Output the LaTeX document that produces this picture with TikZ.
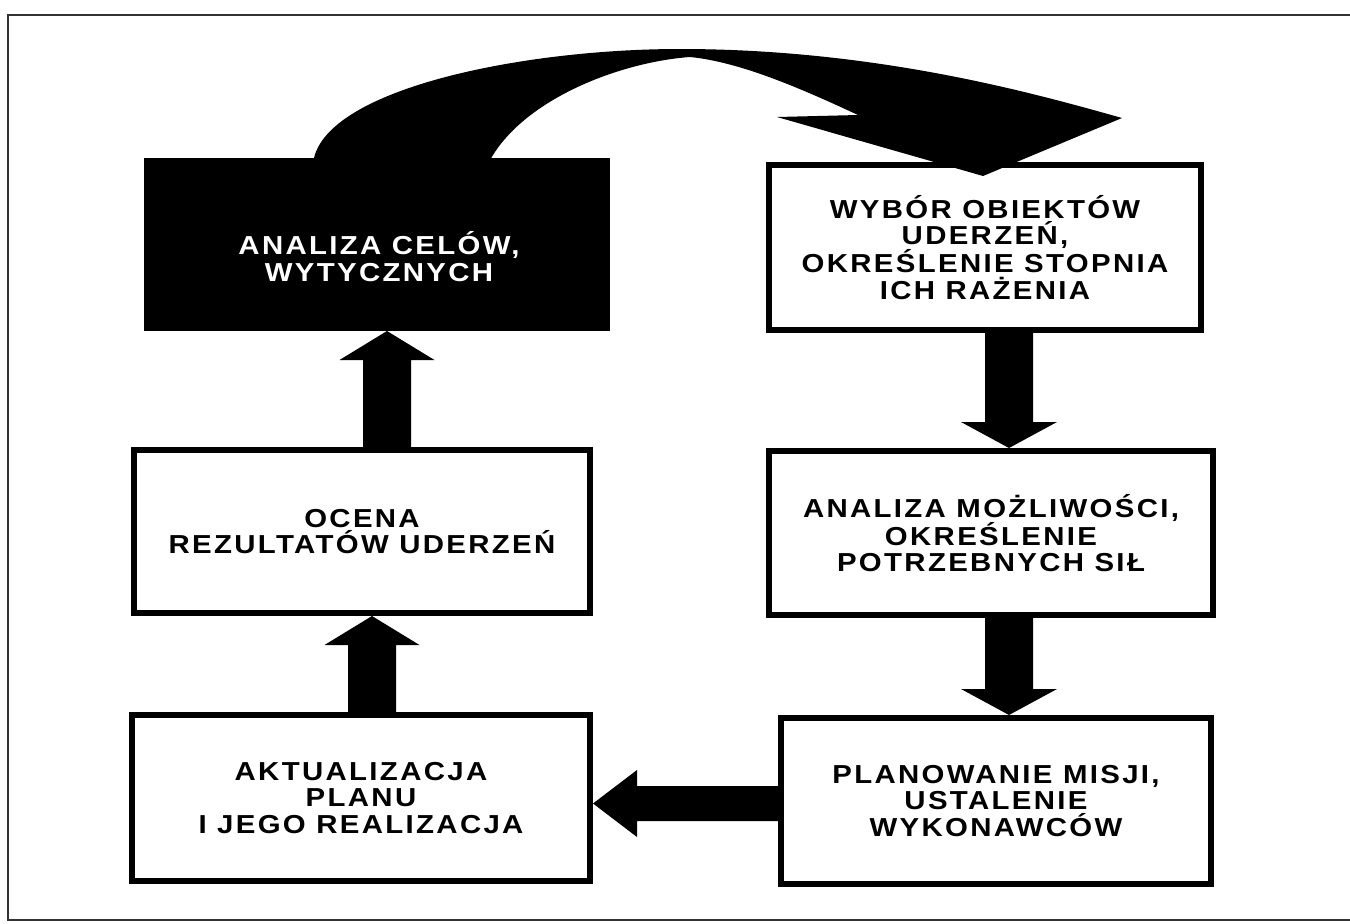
\documentclass[tikz,border=0pt]{standalone}
\usepackage{fontspec}
\newfontfamily\lbl{Liberation Sans}[FakeStretch=1.13,LetterSpace=9]
\usetikzlibrary{calc}
\begin{document}
\begin{tikzpicture}[x=1pt,y=-1pt,
  box/.style={draw=black, line width=6pt, fill=white, inner sep=0pt,
    align=center, text=black, font=\lbl\bfseries\fontsize{26}{26.5}\selectfont},
  darkbox/.style={box, fill=black},
  boxtext/.style={align=center, inner sep=0pt, text=white,
    font=\lbl\bfseries\fontsize{26}{27}\selectfont},
  blk/.style={fill=black},
  frame/.style={draw=black!80, line width=2.5pt}]
\useasboundingbox (0,0) rectangle (1350,924);
\fill[white] (0,0) rectangle (1350,924);

% outer frame, open on the right
\draw[frame] (1352,15) -- (8,15) -- (8,920) -- (1352,920);

% process boxes
\node[darkbox, minimum width=460pt, minimum height=167pt] (a1) at (377,244.5) {};
\node[boxtext] (a1t) at (379,257) {ANALIZA CELÓW,\\WYTYCZNYCH};
\node[box, minimum width=432pt, minimum height=165pt] (b1) at (985,247.5)
  {WYBÓR OBIEKTÓW\\UDERZEŃ,\\OKREŚLENIE STOPNIA\\ICH RAŻENIA};
\node[box, minimum width=456pt, minimum height=163pt] (a2) at (362,531.5)
  {OCENA\\REZULTATÓW UDERZEŃ};
\node[box, minimum width=444pt, minimum height=164pt] (b2) at (991,533)
  {ANALIZA MOŻLIWOŚCI,\\OKREŚLENIE\\POTRZEBNYCH SIŁ};
\node[box, minimum width=458pt, minimum height=166pt] (a3) at (361,798)
  {AKTUALIZACJA\\PLANU\\I JEGO REALIZACJA};
\node[box, minimum width=430pt, minimum height=166pt] (b3) at (996,801)
  {PLANOWANIE MISJI,\\USTALENIE\\WYKONAWCÓW};

% axes of the straight block arrows
\coordinate (xu1) at (387,0);
\coordinate (xu2) at (372,0);
\coordinate (xd) at (1009,0);
\coordinate (yl) at (0,803.5);

% a2 -> a1
\fill[blk] ($(xu1 |- a2.north)+(-24,0)$) -- ($(xu1 |- a1.south)+(-24,29)$)
  -- ($(xu1 |- a1.south)+(-47.5,29)$) -- (xu1 |- a1.south)
  -- ($(xu1 |- a1.south)+(47.5,29)$) -- ($(xu1 |- a1.south)+(24,29)$)
  -- ($(xu1 |- a2.north)+(24,0)$) -- cycle;
% a3 -> a2
\fill[blk] ($(xu2 |- a3.north)+(-24,0)$) -- ($(xu2 |- a2.south)+(-24,29)$)
  -- ($(xu2 |- a2.south)+(-47.5,29)$) -- (xu2 |- a2.south)
  -- ($(xu2 |- a2.south)+(47.5,29)$) -- ($(xu2 |- a2.south)+(24,29)$)
  -- ($(xu2 |- a3.north)+(24,0)$) -- cycle;
% b1 -> b2
\fill[blk] ($(xd |- b1.south)+(-24,0)$) -- ($(xd |- b2.north)+(-24,-26)$)
  -- ($(xd |- b2.north)+(-48,-26)$) -- (xd |- b2.north)
  -- ($(xd |- b2.north)+(48,-26)$) -- ($(xd |- b2.north)+(24,-26)$)
  -- ($(xd |- b1.south)+(24,0)$) -- cycle;
% b2 -> b3
\fill[blk] ($(xd |- b2.south)+(-24,0)$) -- ($(xd |- b3.north)+(-24,-26)$)
  -- ($(xd |- b3.north)+(-48,-26)$) -- (xd |- b3.north)
  -- ($(xd |- b3.north)+(48,-26)$) -- ($(xd |- b3.north)+(24,-26)$)
  -- ($(xd |- b2.south)+(24,0)$) -- cycle;
% b3 -> a3
\fill[blk] ($(b3.west |- yl)+(0,-17.5)$) -- ($(a3.east |- yl)+(44,-17.5)$)
  -- ($(a3.east |- yl)+(44,-33.5)$) -- (a3.east |- yl)
  -- ($(a3.east |- yl)+(44,33.5)$) -- ($(a3.east |- yl)+(44,17.5)$)
  -- ($(b3.west |- yl)+(0,17.5)$) -- cycle;

% curved arrow a1 -> b1
\coordinate (co) at (313,0);
\coordinate (ci) at (488,0);
\coordinate (ctip) at (983,0);
\fill[blk] ($(co |- a1.north)+(0,6)$) .. controls (320,90) and (520,49) .. (680,49)
  .. controls (880,49) and (1040,95) .. (1122,118)
  -- ($(ctip |- b1.north)+(0,14)$) -- (777,117) -- (858,115)
  .. controls (800,88) and (740,62) .. (690,57)
  .. controls (620,62) and (520,100) .. ($(ci |- a1.north)+(0,6)$) -- cycle;
\end{tikzpicture}
\end{document}
